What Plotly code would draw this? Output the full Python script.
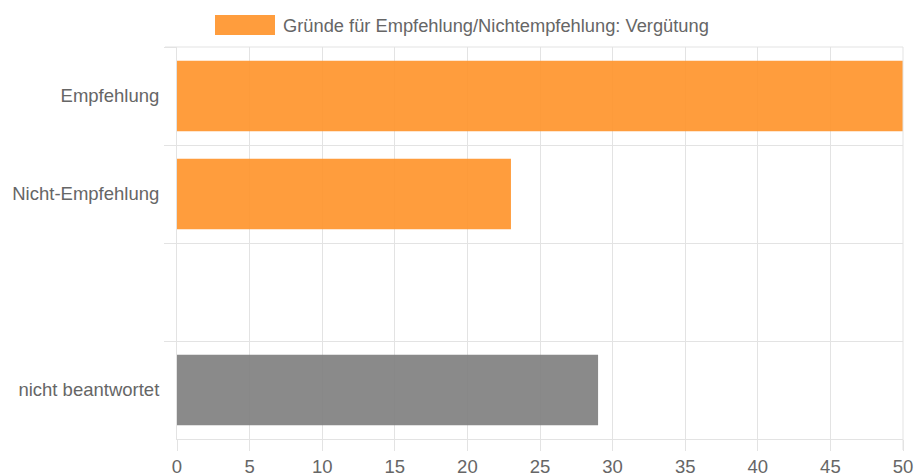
import plotly.graph_objects as go

categories = ["Empfehlung", "Nicht-Empfehlung", " ", "nicht beantwortet"]
values = [50, 23, None, 29]
bar_colors = ["rgba(255,146,40,0.9)", "rgba(255,146,40,0.9)", "rgba(255,146,40,0.9)", "rgba(125,125,125,0.9)"]
series_name = "Gründe für Empfehlung/Nichtempfehlung: Vergütung"
x_ticks = [0, 5, 10, 15, 20, 25, 30, 35, 40, 45, 50]

FONT = "Liberation Sans, Arial, sans-serif"
GRID = "#e3e3e3"
FS = 18.5

fig = go.Figure(
    go.Bar(
        y=categories,
        x=values,
        orientation="h",
        marker=dict(color=bar_colors, line=dict(width=0)),
        name=series_name,
        showlegend=False,
    )
)

fig.update_layout(
    width=915,
    height=476,
    margin=dict(l=177, r=12, t=47, b=37, autoexpand=False),
    paper_bgcolor="white",
    plot_bgcolor="white",
    bargap=0.28,
    font=dict(family=FONT, size=FS, color="#666666"),
    xaxis=dict(
        range=[0, 50],
        tickvals=x_ticks,
        showgrid=True,
        gridcolor=GRID,
        gridwidth=1,
        zeroline=False,
        showline=True,
        linecolor=GRID,
        ticks="outside",
        ticklen=11,
        tickcolor=GRID,
        tickfont=dict(size=FS, color="#666666"),
        automargin=False,
    ),
    yaxis=dict(
        categoryorder="array",
        categoryarray=categories,
        autorange="reversed",
        tickson="boundaries",
        showgrid=True,
        gridcolor=GRID,
        gridwidth=1,
        zeroline=False,
        showline=True,
        linecolor=GRID,
        ticks="outside",
        ticklen=12,
        tickcolor=GRID,
        tickfont=dict(size=FS, color="#666666"),
        ticklabelstandoff=13,
        automargin=False,
    ),
    shapes=[
        dict(type="rect", xref="paper", yref="paper",
             x0=(215 - 177) / 726, x1=(275 - 177) / 726,
             y0=1 + (47 - 35) / 392, y1=1 + (47 - 15) / 392,
             fillcolor="rgba(255,146,40,0.9)", line=dict(width=0)),
        dict(type="line", xref="paper", yref="paper",
             x0=-12 / 726, x1=1, y0=1, y1=1,
             line=dict(color=GRID, width=1)),
        dict(type="line", xref="paper", yref="paper",
             x0=1, x1=1, y0=1, y1=-11 / 392,
             line=dict(color=GRID, width=1)),
    ],
    annotations=[
        dict(text=series_name, xref="paper", yref="paper",
             x=(281 - 177) / 726, y=1 + (47 - 25) / 392,
             xanchor="left", yanchor="middle", showarrow=False,
             font=dict(family=FONT, size=18.3, color="#666666")),
    ],
)

fig.write_html(
    "out.html",
    config={"displayModeBar": False},
    post_script="document.body.style.margin='0';document.body.style.overflow='hidden';",
)
